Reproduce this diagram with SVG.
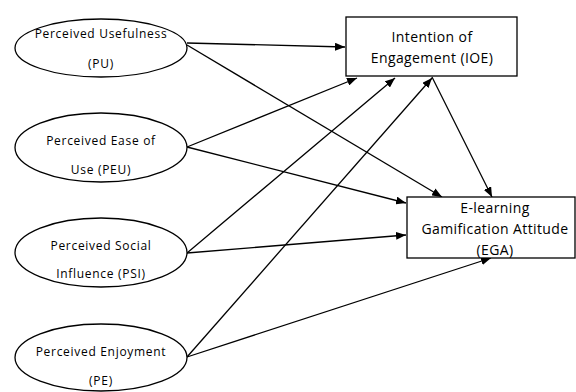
<svg xmlns="http://www.w3.org/2000/svg" width="576" height="392" viewBox="0 0 576 392">
<defs>
<marker id="ah" viewBox="0 0 10 8" refX="10" refY="4" markerWidth="10" markerHeight="8" markerUnits="userSpaceOnUse" orient="auto">
<path d="M0,0 L10,4 L0,8 Z" fill="#000"/>
</marker>
<style>
.n{fill:#fff;stroke:#000;stroke-width:1.3}
.t{font-family:"Open Sans","DejaVu Sans",sans-serif;font-size:12px;letter-spacing:0.7px;fill:#000;text-anchor:middle}
.tb{font-family:"Open Sans","DejaVu Sans",sans-serif;font-size:14px;letter-spacing:0.4px;fill:#000;text-anchor:middle}
.c{stroke:#000;stroke-width:1.3;fill:none;marker-end:url(#ah)}
</style>
</defs>
<rect width="576" height="392" fill="#fff"/>
<g id="connectors">
<line class="c" x1="187" y1="43" x2="345" y2="47"/>
<line class="c" x1="187" y1="45" x2="442" y2="197"/>
<line class="c" x1="187" y1="147" x2="357" y2="78"/>
<line class="c" x1="187" y1="147" x2="406" y2="203"/>
<line class="c" x1="187" y1="253" x2="395" y2="78"/>
<line class="c" x1="187" y1="253" x2="406" y2="235"/>
<line class="c" x1="187" y1="357" x2="432" y2="78"/>
<line class="c" x1="187" y1="357" x2="491" y2="258"/>
<line class="c" x1="432" y1="77" x2="492" y2="197"/>
</g>
<g id="PU">
<ellipse class="n" cx="101" cy="48" rx="86" ry="29"/>
<text class="t" x="101" y="38">Perceived Usefulness</text>
<text class="t" x="101" y="68">(PU)</text>
</g>
<g id="PEU">
<ellipse class="n" cx="101" cy="147.5" rx="86" ry="34.5"/>
<text class="t" x="101" y="145">Perceived Ease of</text>
<text class="t" x="101" y="174">Use (PEU)</text>
</g>
<g id="PSI">
<ellipse class="n" cx="101" cy="252.5" rx="86" ry="34.5"/>
<text class="t" x="101" y="250">Perceived Social</text>
<text class="t" x="101" y="278">Influence  (PSI)</text>
</g>
<g id="PE">
<ellipse class="n" cx="101" cy="357.5" rx="86" ry="33.5"/>
<text class="t" x="101" y="356">Perceived Enjoyment</text>
<text class="t" x="101" y="385">(PE)</text>
</g>
<g id="IOE">
<rect class="n" x="346" y="17" width="171" height="59"/>
<text class="tb" x="432" y="42">Intention of</text>
<text class="tb" x="432" y="63">Engagement (IOE)</text>
</g>
<g id="EGA">
<rect class="n" x="407" y="197" width="168" height="61"/>
<text class="tb" x="495" y="213">E-learning</text>
<text class="tb" x="495" y="234">Gamification Attitude</text>
<text class="tb" x="495" y="255">(EGA)</text>
</g>
</svg>
